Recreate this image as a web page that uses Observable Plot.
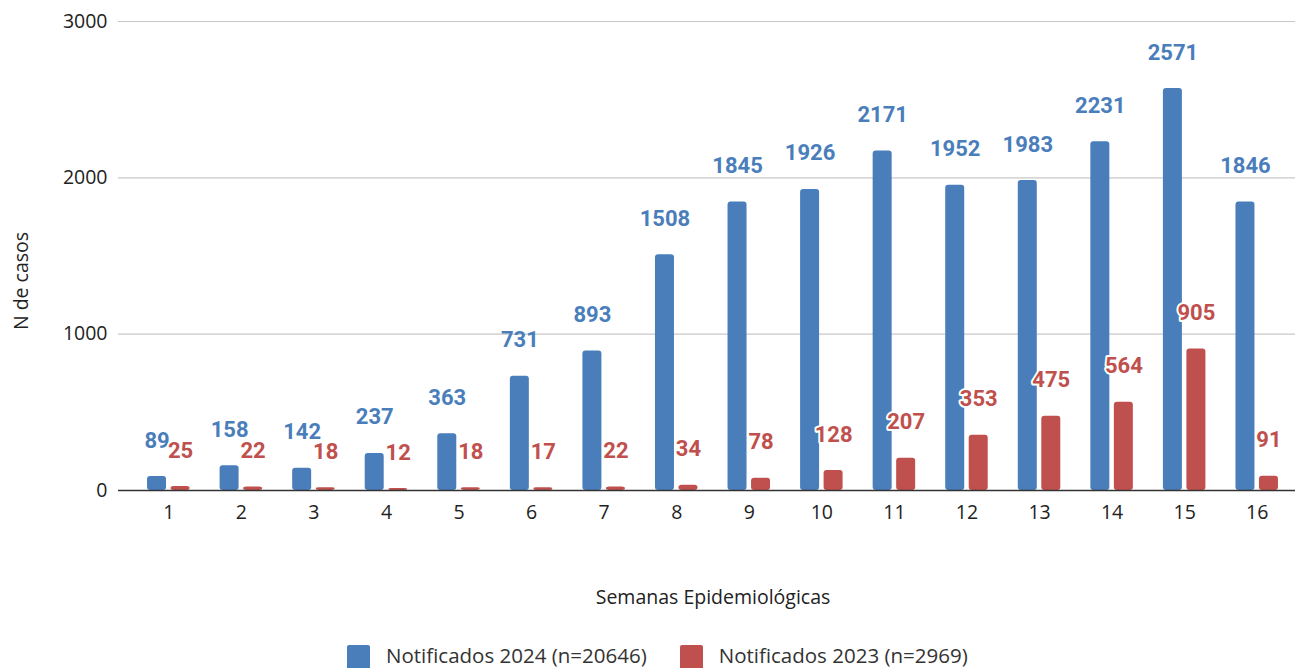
<!DOCTYPE html>
<html>
<head>
<meta charset="utf-8">
<script src="https://cdn.jsdelivr.net/npm/d3@7"></script>
<script src="https://cdn.jsdelivr.net/npm/@observablehq/plot@0.6"></script>
<style>
  html, body { margin: 0; padding: 0; background: #fff; }
  #wrap { position: relative; width: 1295px; height: 668px; overflow: hidden; font-family: 'Open Sans', sans-serif; color: #333; }
  #ylabel { position: absolute; left: 20px; top: 281px; transform: translate(-50%, -50%) rotate(-90deg); font-size: 19.5px; white-space: nowrap; color: #222; }
  #legend { position: absolute; left: 347px; top: 644px; display: flex; align-items: flex-start; font-size: 20.5px; color: #333; white-space: nowrap; }
  .sw { width: 23px; height: 26px; border-radius: 2px; display: inline-block; margin-top: 1px; }
  .lt { margin-left: 16px; margin-right: 33px; line-height: 22px; }
</style>
</head>
<body>
<div id="wrap">
  <div id="chart"></div>
  <div id="ylabel">N de casos</div>
  <div id="legend"></div>
</div>
<script>
const weeks = [1, 2, 3, 4, 5, 6, 7, 8, 9, 10, 11, 12, 13, 14, 15, 16];
const notif2024 = [89, 158, 142, 237, 363, 731, 893, 1508, 1845, 1926, 2171, 1952, 1983, 2231, 2571, 1846];
const notif2023 = [25, 22, 18, 12, 18, 17, 22, 34, 78, 128, 207, 353, 475, 564, 905, 91];
const yTicks = [0, 1000, 2000, 3000];
const seriesNames = ["Notificados 2024 (n=20646)", "Notificados 2023 (n=2969)"];
const blue = "#4a7ebb";
const red = "#c0504d";

const data = weeks.map((w, i) => ({week: w, v2024: notif2024[i], v2023: notif2023[i]}));

const W = 1295, H = 620;
const mL = 132, mR = 2;
const step = (W - mL - mR) / weeks.length;
const barW = 19;
const ins = (step - barW) / 2;
const off = 11.75;

const labelStyle = {fontFamily: "Roboto, sans-serif", fontWeight: "bold", fontSize: 22, lineAnchor: "middle", dy: -36};

const chart = Plot.plot({
  width: W,
  height: H,
  marginTop: 21,
  marginBottom: 130,
  marginLeft: mL,
  marginRight: mR,
  style: {fontFamily: "'Open Sans', sans-serif", fontSize: "19.5px", color: "#333", background: "#fff"},
  x: {type: "band", domain: weeks, padding: 0, round: false},
  y: {domain: [0, 3000]},
  marks: [
    Plot.ruleY(yTicks.filter(d => d > 0), {stroke: "#c8c8c8", strokeWidth: 1.2, insetLeft: -14, insetRight: -3}),
    Plot.barY(data, {x: "week", y: "v2024", fill: blue, dx: -off, insetLeft: ins, insetRight: ins, rx: 3}),
    Plot.barY(data, {x: "week", y: "v2023", fill: red, dx: off, insetLeft: ins, insetRight: ins, rx: 3}),
    Plot.ruleY([0], {stroke: "#333", strokeWidth: 1.5, insetLeft: -14, insetRight: -3}),
    Plot.axisX({tickSize: 0, tickPadding: 15, fontSize: 19.5, fill: "#222",
      label: "Semanas Epidemiológicas", labelAnchor: "center", labelArrow: "none", labelOffset: 113}),
    Plot.axisY({ticks: yTicks, tickSize: 0, tickPadding: 25, fontSize: 19.5, fill: "#222", label: null, tickFormat: d => String(d)}),
    Plot.text(data, {x: "week", y: "v2024", text: d => String(d.v2024), dx: -off, fill: blue, ...labelStyle}),
    Plot.text(data, {x: "week", y: "v2023", text: d => String(d.v2023), dx: off, fill: red,
      stroke: "white", strokeWidth: 4, paintOrder: "stroke", ...labelStyle})
  ]
});
document.getElementById("chart").appendChild(chart);

const legend = document.getElementById("legend");
[blue, red].forEach((c, i) => {
  const sw = document.createElement("span");
  sw.className = "sw";
  sw.style.background = c;
  const t = document.createElement("span");
  t.className = "lt";
  t.textContent = seriesNames[i];
  legend.appendChild(sw);
  legend.appendChild(t);
});
</script>
</body>
</html>
